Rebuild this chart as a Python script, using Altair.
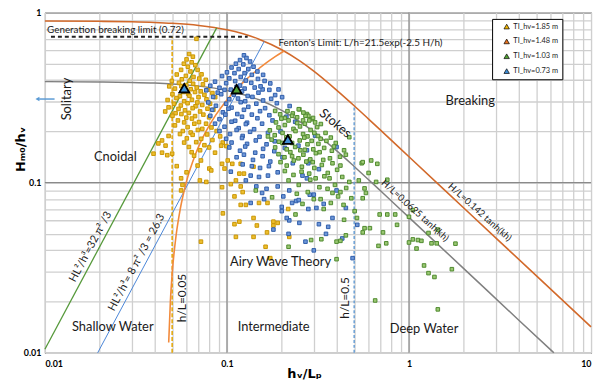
import altair as alt
import pandas as pd

FONT = "Lato"

# ---------------- data ----------------
series_labels = ["TI_hv=1.85 m", "TI_hv=1.48 m", "TI_hv=1.03 m", "TI_hv=0.73 m"]
series_colors = ["#F2B705", "#E8731E", "#52A234", "#3F8FD8"]

# mean markers (label, hv/Lp, Hm0/hv)
mean_pts = [
    ("TI_hv=1.85 m", 0.0583, 0.359),
    ("TI_hv=1.48 m", 0.113, 0.354),
    ("TI_hv=1.48 m", 0.216, 0.179),
    ("TI_hv=1.03 m", 0.113, 0.354),
    ("TI_hv=0.73 m", 0.0583, 0.359),
    ("TI_hv=0.73 m", 0.216, 0.179),
]

yellow_pts = [
    (0.068,0.70),(0.062,0.57),(0.065,0.55),(0.060,0.53),(0.064,0.51),(0.058,0.50),(0.067,0.49),(0.061,0.48),(0.056,0.46),(0.069,0.46),(0.063,0.45),
    (0.053,0.432),(0.0595,0.424),(0.0655,0.418),(0.0725,0.433),(0.0565,0.405),(0.0625,0.397),(0.0705,0.409),(0.0498,0.396),(0.0765,0.402),(0.0545,0.386),(0.0652,0.381),(0.0598,0.374),(0.0738,0.378),
    (0.0482,0.368),(0.0518,0.357),(0.0562,0.369),(0.0632,0.354),(0.0682,0.362),(0.0788,0.352),(0.0718,0.344),(0.0578,0.341),(0.0612,0.333),(0.0668,0.341),(0.0752,0.328),(0.0832,0.336),(0.0502,0.331),(0.0552,0.322),(0.0698,0.318),(0.0622,0.324),(0.0862,0.318),
    (0.0472,0.306),(0.0528,0.314),(0.0582,0.301),(0.0642,0.307),(0.0688,0.296),(0.0772,0.309),(0.0808,0.291),(0.0512,0.291),(0.0558,0.284),(0.0608,0.293),(0.0672,0.281),(0.0732,0.286),(0.0478,0.277),(0.0542,0.271),(0.0588,0.266),(0.0648,0.274),(0.0712,0.262),(0.0782,0.272),(0.0842,0.268),(0.0458,0.262),(0.0522,0.256),(0.0618,0.257),
    (0.0502,0.247),(0.0562,0.253),(0.0598,0.241),(0.0668,0.246),(0.0742,0.251),(0.0798,0.242),(0.0538,0.232),(0.0582,0.226),(0.0642,0.238),(0.0702,0.227),(0.0768,0.222),(0.0518,0.217),(0.0608,0.212),(0.0662,0.222),(0.0732,0.207),(0.0822,0.211),(0.0572,0.201),(0.0632,0.197),(0.0692,0.204),(0.0878,0.201),
    (0.0478,0.188),(0.0552,0.193),(0.0602,0.182),(0.0648,0.191),(0.0722,0.181),(0.0778,0.192),(0.0918,0.187),(0.0582,0.172),(0.0678,0.173),(0.0752,0.166),(0.0832,0.178),(0.0948,0.172),(0.0992,0.164),(0.0618,0.162),(0.0712,0.155),(0.0798,0.161),
    (0.046,0.165),(0.044,0.15),(0.047,0.145),(0.064,0.151),(0.066,0.144),(0.086,0.15),(0.093,0.165),(0.0395,0.148),(0.044,0.177),(0.042,0.17),(0.05,0.148),
    (0.069,0.126),(0.072,0.135),(0.080,0.121),(0.082,0.118),(0.101,0.135),(0.094,0.129),(0.097,0.121),(0.107,0.129),(0.119,0.129),(0.124,0.113),(0.14,0.124),(0.117,0.113),(0.056,0.106),(0.057,0.097),(0.071,0.103),(0.077,0.101),(0.105,0.098),(0.112,0.103),(0.053,0.125),(0.060,0.115),(0.056,0.090),
    (0.094,0.094),(0.119,0.095),(0.122,0.088),(0.11,0.083),(0.15,0.076),(0.119,0.074),(0.127,0.074),(0.095,0.066),(0.14,0.062),(0.117,0.059),(0.11,0.057),(0.146,0.056),(0.18,0.059),(0.19,0.058),(0.217,0.07),(0.112,0.048),(0.14,0.048),(0.163,0.042),(0.22,0.048),(0.072,0.045),(0.166,0.051),(0.173,0.036),(0.167,0.076),(0.18,0.056),
]

blue_pts = [
    (0.124,0.56),(0.128,0.54),(0.118,0.525),(0.134,0.515),(0.112,0.50),(0.123,0.495),(0.140,0.48),(0.106,0.475),(0.116,0.465),(0.131,0.465),(0.147,0.45),(0.100,0.445),(0.110,0.44),(0.125,0.44),(0.137,0.43),(0.158,0.43),(0.173,0.383),(0.157,0.353),(0.192,0.353),
    (0.094,0.423),(0.103,0.41),(0.119,0.418),(0.127,0.398),(0.148,0.407),(0.161,0.396),(0.086,0.392),(0.099,0.384),(0.111,0.395),(0.118,0.372),(0.136,0.386),(0.153,0.368),(0.081,0.371),(0.091,0.361),(0.105,0.352),(0.113,0.366),(0.125,0.357),(0.142,0.362),(0.171,0.351),
    (0.077,0.349),(0.089,0.338),(0.097,0.351),(0.109,0.329),(0.121,0.344),(0.130,0.323),(0.149,0.338),(0.184,0.327),(0.201,0.318),(0.084,0.319),(0.093,0.331),(0.103,0.309),(0.115,0.312),(0.126,0.301),(0.138,0.319),(0.158,0.304),(0.175,0.311),
    (0.079,0.296),(0.087,0.283),(0.099,0.291),(0.106,0.276),(0.119,0.297),(0.131,0.279),(0.145,0.291),(0.162,0.274),(0.188,0.293),(0.221,0.282),(0.083,0.268),(0.095,0.259),(0.102,0.272),(0.114,0.253),(0.124,0.268),(0.137,0.251),(0.152,0.263),(0.171,0.249),
    (0.081,0.247),(0.091,0.236),(0.098,0.251),(0.111,0.231),(0.121,0.244),(0.129,0.225),(0.147,0.239),(0.178,0.232),(0.212,0.244),(0.086,0.222),(0.097,0.213),(0.106,0.228),(0.116,0.209),(0.127,0.221),(0.141,0.206),(0.156,0.222),(0.237,0.228),
    (0.091,0.201),(0.104,0.193),(0.113,0.204),(0.122,0.188),(0.134,0.199),(0.151,0.186),(0.168,0.196),(0.197,0.2),(0.099,0.181),(0.106,0.172),(0.121,0.183),(0.129,0.169),(0.144,0.177),(0.165,0.168),(0.183,0.175),
    (0.103,0.161),(0.118,0.154),(0.126,0.163),(0.143,0.15),(0.158,0.158),(0.182,0.153),(0.208,0.16),(0.247,0.165),(0.113,0.141),(0.124,0.146),(0.139,0.136),(0.157,0.143),(0.173,0.133),(0.202,0.141),
    (0.122,0.128),(0.137,0.125),(0.152,0.122),(0.170,0.125),(0.23,0.13),(0.28,0.13),(0.135,0.11),(0.150,0.108),(0.168,0.11),(0.19,0.115),(0.26,0.11),(0.32,0.12),
    (0.145,0.095),(0.165,0.092),(0.19,0.095),(0.22,0.09),(0.30,0.085),(0.16,0.08),(0.24,0.078),(0.20,0.072),(0.28,0.07),(0.34,0.075),(0.22,0.06),(0.18,0.053),(0.25,0.058),(0.32,0.057),(0.38,0.062),(0.27,0.045),(0.35,0.05),(0.43,0.047),(0.49,0.036),(0.30,0.04),
    (0.305,0.189),(0.275,0.155),(0.40,0.162),(0.285,0.135),(0.275,0.106),(0.40,0.09),(0.45,0.071),(0.31,0.071),(0.36,0.055),(0.52,0.0565),
    (0.105,0.116),(0.127,0.103),(0.156,0.087),(0.135,0.076),(0.204,0.083),(0.228,0.076),(0.248,0.079),(0.213,0.062),(0.218,0.05),(0.20,0.068),(0.285,0.085),
]

green_pts = [
    (0.184,0.264),(0.208,0.24),(0.25,0.27),(0.275,0.253),(0.292,0.236),(0.28,0.247),(0.23,0.255),(0.248,0.27),(0.27,0.247),(0.228,0.247),
    (0.44,0.155),(0.45,0.146),(0.47,0.185),(0.38,0.13),(0.42,0.126),(0.366,0.106),(0.43,0.108),(0.47,0.101),(0.53,0.103),
    (0.144,0.09),(0.177,0.082),(0.38,0.087),(0.42,0.088),(0.57,0.0925),(0.58,0.087),(0.557,0.081),(0.66,0.101),(0.55,0.13),(0.557,0.132),(0.62,0.135),(0.67,0.129),(0.6,0.114),(0.76,0.104),
    (0.238,0.065),(0.218,0.042),(0.29,0.046),(0.33,0.0465),(0.40,0.045),(0.42,0.0455),(0.45,0.049),(0.40,0.0355),(0.44,0.0605),(0.61,0.054),(0.57,0.054),(0.557,0.051),(0.72,0.051),(0.68,0.0425),(0.75,0.044),
    (0.69,0.065),(0.76,0.065),(0.84,0.065),(1.0,0.063),(1.05,0.069),(0.86,0.0565),(1.0,0.0445),(1.05,0.0464),(1.1,0.041),(1.12,0.046),(1.17,0.0455),(1.28,0.0506),(1.33,0.044),(1.42,0.044),(1.44,0.053),(1.8,0.0438),
    (1.21,0.0326),(1.28,0.0294),(1.38,0.0279),(1.72,0.031),(0.652,0.0203),(1.44,0.018),(0.26,0.075),(0.3,0.08),(0.34,0.07),
    (0.186,0.226),(0.199,0.238),(0.218,0.232),(0.243,0.242),(0.262,0.232),(0.297,0.24),(0.328,0.221),
    (0.192,0.211),(0.208,0.218),(0.232,0.207),(0.252,0.214),(0.268,0.222),(0.288,0.204),(0.313,0.212),(0.348,0.196),
    (0.172,0.203),(0.183,0.19),(0.202,0.196),(0.221,0.187),(0.238,0.201),(0.262,0.193),(0.277,0.187),(0.302,0.196),(0.327,0.181),(0.372,0.184),(0.396,0.171),
    (0.176,0.179),(0.193,0.174),(0.212,0.185),(0.228,0.171),(0.251,0.177),(0.266,0.184),(0.292,0.176),(0.318,0.169),(0.352,0.176),(0.387,0.163),
    (0.184,0.161),(0.202,0.171),(0.213,0.157),(0.237,0.162),(0.253,0.155),(0.277,0.168),(0.298,0.157),(0.323,0.151),(0.377,0.154),(0.418,0.142),
    (0.192,0.147),(0.207,0.141),(0.223,0.151),(0.247,0.139),(0.263,0.146),(0.287,0.137),(0.308,0.149),(0.338,0.136),(0.368,0.139),
    (0.197,0.132),(0.213,0.126),(0.233,0.135),(0.258,0.124),(0.273,0.133),(0.302,0.122),(0.332,0.127),(0.358,0.114),(0.403,0.119),
    (0.208,0.117),(0.232,0.111),(0.257,0.116),(0.283,0.113),(0.307,0.106),(0.343,0.109),(0.392,0.097),(0.452,0.093),
    (0.218,0.103),(0.248,0.097),(0.287,0.104),(0.322,0.094),(0.357,0.092),(0.408,0.083),(0.482,0.081),
    (0.242,0.086),(0.278,0.088),(0.327,0.08),(0.372,0.076),(0.437,0.074),(0.503,0.068),(0.518,0.062),
    (0.196,0.252),(0.215,0.263),(0.263,0.258),(0.305,0.226),(0.168,0.187),(0.243,0.224),(0.283,0.232),(0.316,0.188),(0.342,0.16),(0.228,0.143),(0.268,0.156),(0.296,0.132),
]

# boundary curves
miche_x = [0.01,0.02,0.03,0.04,0.05,0.07,0.1,0.12,0.15,0.2,0.25,0.3,0.4,0.5,0.6,0.7,1,2,5,10]
miche_y = [0.891,0.8875,0.882,0.874,0.864,0.839,0.791,0.755,0.697,0.604,0.521,0.452,0.350,0.283,0.2364,0.203,0.142,0.071,0.0284,0.0142]
stokes_x = [0.01,0.02,0.03,0.04,0.05,0.07,0.1,0.12,0.15,0.2,0.25,0.3,0.4,0.5,0.6,0.7,1,2,4,6.25]
stokes_y = [0.3923,0.3906,0.3881,0.3847,0.3803,0.3691,0.3481,0.3322,0.3069,0.2657,0.2293,0.1989,0.1542,0.1245,0.1041,0.0893,0.0625,0.03125,0.0156,0.01]
fenton_x = [0.04787,0.0489,0.05013,0.0527,0.0554,0.0597,0.0677,0.0767,0.0869,0.0985,0.1116,0.1264,0.1433,0.1623,0.184,0.2059]
fenton_y = [0.0115,0.02,0.03,0.05,0.07,0.1,0.15,0.2,0.25,0.3,0.35,0.4,0.45,0.5,0.55,0.594]
ursell32_x = [0.01, 0.0878]
ursell32_y = [0.0105, 0.8116]
ursell8_x = [0.01949, 0.1604]
ursell8_y = [0.01, 0.677]
hl005_x = [0.05, 0.05]
hl005_y = [0.01, 0.72]
hl05_x = [0.5, 0.5]
hl05_y = [0.01, 0.283]
genbreak_x = [0.0108, 0.13]
genbreak_y = [0.72, 0.72]

x_grid = [0.01,0.02,0.03,0.04,0.05,0.06,0.07,0.08,0.09,0.1,0.2,0.3,0.4,0.5,0.6,0.7,0.8,0.9,1,2,3,4,5,6,7,8,9,10]
y_grid = [0.01,0.02,0.03,0.04,0.05,0.06,0.07,0.08,0.09,0.1,0.2,0.3,0.4,0.5,0.6,0.7,0.8,0.9,1]
decade_x = [0.1, 1]
decade_y = [0.1]

# ---------------- chart ----------------
XS = alt.Scale(type="log", domain=[0.01, 10], nice=False)
YS = alt.Scale(type="log", domain=[0.01, 1], nice=False)
label_expr = "(datum.value==0.01||datum.value==0.1||datum.value==1||datum.value==10) ? datum.label : ''"
TITLE_FONT = "DejaVu Sans"

X_AXIS = alt.Axis(values=x_grid, labelExpr=label_expr, format="~g", grid=True, ticks=False,
                  domain=False, labelFont=FONT, labelFontWeight="bold", labelFontSize=9,
                  labelColor="black", labelPadding=7, title="hᵥ/Lₚ", titleFont=TITLE_FONT,
                  titleFontSize=13, titleFontWeight="bold", titleColor="black",
                  titleX=262, titleY=15, gridColor="#cfcfcf", gridWidth=1.3)
Y_AXIS = alt.Axis(values=y_grid, labelExpr=label_expr, format="~g", grid=True, ticks=False,
                  domain=False, labelFont=FONT, labelFontWeight="bold", labelFontSize=9,
                  labelColor="black", labelPadding=4, title="Hₘ₀/hᵥ", titleFont=TITLE_FONT,
                  titleFontSize=13, titleFontWeight="bold", titleColor="black",
                  titleX=-18, titleY=138, gridColor="#cfcfcf", gridWidth=1.3)


def X(field="x"):
    return alt.X(f"{field}:Q", scale=XS, axis=X_AXIS)


def Y(field="y"):
    return alt.Y(f"{field}:Q", scale=YS, axis=Y_AXIS)


def line_layer(xs, ys, color, width, dash=None, interp="linear"):
    df = pd.DataFrame({"x": xs, "y": ys, "i": list(range(len(xs)))})
    kw = dict(color=color, strokeWidth=width, interpolate=interp)
    if dash:
        kw["strokeDash"] = dash
    return alt.Chart(df).mark_line(**kw).encode(x=X(), y=Y(), order="i:Q")


dec_x = alt.Chart(pd.DataFrame({"x": decade_x})).mark_rule(color="#8a8a8a", strokeWidth=1.2).encode(x=X())
dec_y = alt.Chart(pd.DataFrame({"y": decade_y})).mark_rule(color="#8a8a8a", strokeWidth=1.2).encode(y=Y())


def scatter(pts, fill, stroke):
    df = pd.DataFrame(pts, columns=["x", "y"])
    return alt.Chart(df).mark_square(size=13, fill=fill, stroke=stroke, strokeWidth=1, opacity=1,
                                     fillOpacity=1).encode(x=X(), y=Y())


yellow = scatter(yellow_pts, "#EDBE2E", "#C99604")
blue = scatter(blue_pts, "#6E97D8", "#2F5DAA")
green = scatter(green_pts, "#9BC873", "#4F8A2F")

lines = [
    line_layer(miche_x, miche_y, "#D2692A", 1.6, interp="monotone"),
    line_layer(stokes_x, stokes_y, "#808080", 1.5, interp="monotone"),
    line_layer(ursell32_x, ursell32_y, "#55993A", 1.3),
    line_layer(ursell8_x, ursell8_y, "#4A86D8", 1.0),
    line_layer(hl005_x, hl005_y, "#E3A400", 1.5, dash=[4, 2]),
    line_layer(hl05_x, hl05_y, "#6A9FD4", 1.5, dash=[3, 2]),
    line_layer(fenton_x, fenton_y, "#F28A3C", 1.6, interp="monotone"),
    line_layer(genbreak_x, genbreak_y, "#222222", 2.2, dash=[4, 3]),
]

means_df = pd.DataFrame(mean_pts, columns=["series", "x", "y"])
means_df["i"] = range(len(means_df))
means = alt.Chart(means_df).mark_point(shape="triangle-up", filled=True, size=95, stroke="black",
                                       strokeWidth=1.6, opacity=1).encode(
    x=X(), y=Y(), order="i:Q",
    color=alt.Color("series:N", scale=alt.Scale(domain=series_labels, range=series_colors),
                    legend=alt.Legend(title=None, orient="none", legendX=452, legendY=6.5,
                                      direction="vertical", symbolType="triangle-up",
                                      symbolSize=30, symbolStrokeColor="black",
                                      symbolStrokeWidth=0.7, labelFontSize=7.5, labelFont=FONT,
                                      labelColor="#222", padding=4, rowPadding=6,
                                      strokeColor="black", fillColor="white", symbolOffset=7,
                                      labelOffset=3, labelLimit=200)))

# annotations
annot_text = ["Solitary", "Cnoidal", "Stokes", "Breaking", "Airy Wave Theory", "Shallow Water",
              "Intermediate", "Deep Water", "h/L=0.05", "h/L=0.5", "HL²/h³=32 π² /3",
              "HL²/h³= 8 π² /3 = 26.3", "H/L=0.0625 tanh(kh)", "H/L=0.142 tanh(kh)",
              "Fenton's Limit: L/h=21.5exp(-2.5 H/h)", "Generation breaking limit (0.72)"]
annot_x = [0.0133, 0.0244, 0.394, 2.17, 0.197, 0.0236, 0.1805, 1.21, 0.0568, 0.443, 0.01787,
           0.032, 1.08, 2.45, 0.541, 0.0244]
annot_y = [0.31, 0.141, 0.223, 0.30, 0.034, 0.01426, 0.01426, 0.01387, 0.021, 0.021, 0.0419,
           0.0339, 0.0685, 0.067, 0.665, 0.788]
annot_angle = [270, 0, 40, 0, 0, 0, 0, 0, 270, 270, 298, 298, 42, 42, 0, 0]
annot_size = [13, 13, 13, 13, 13, 13, 13, 13, 12, 12, 11, 11, 9.5, 9.5, 10, 10]
annot_df = pd.DataFrame({"t": annot_text, "x": annot_x, "y": annot_y, "a": annot_angle,
                         "s": annot_size})
annots = alt.Chart(annot_df).mark_text(font=FONT, color="#1a1a1a", align="center",
                                       baseline="middle").encode(
    x=X(), y=Y(), text="t:N", angle=alt.Angle("a:Q", scale=None), size=alt.Size("s:Q", scale=None))

# solitary arrow (outside the frame, left)
arrow_x = [0.0093, 0.0113]
arrow_y = [0.31, 0.31]
arrow_line = line_layer(arrow_x, arrow_y, "#5B9BD5", 1.5)
arrow_head = alt.Chart(pd.DataFrame({"x": [0.0091], "y": [0.31]})).mark_point(
    shape="triangle-left", filled=True, size=22, color="#5B9BD5", opacity=1).encode(x=X(), y=Y())

chart = alt.layer(
    dec_x, dec_y, *lines, yellow, blue, green, means, annots, arrow_line, arrow_head
).properties(
    width=552, height=344,
    autosize=alt.AutoSizeParams(type="none"),
    padding={"left": 37.3, "top": 2.5, "right": 2, "bottom": 30},
).configure_view(stroke="black", strokeWidth=1)

chart.save("out.html", embed_options={"renderer": "svg", "actions": False})
